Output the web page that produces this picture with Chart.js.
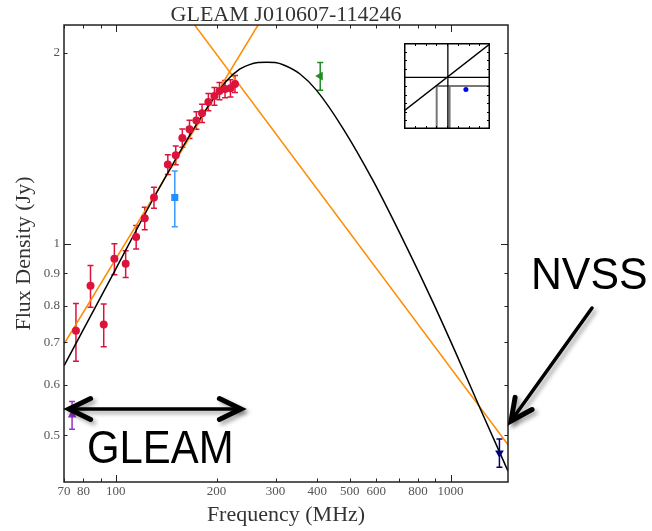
<!DOCTYPE html>
<html>
<head>
<meta charset="utf-8">
<script src="https://cdn.jsdelivr.net/npm/chart.js@4.4.0/dist/chart.umd.min.js"></script>
<style>
  html, body { margin: 0; padding: 0; background: #fff; }
  #wrap { position: relative; width: 652px; height: 531px; }
  #main { position: absolute; left: 0; top: 0; }
  #inset { position: absolute; left: 404px; top: 43px; }
</style>
</head>
<body>
<div id="wrap">
  <canvas id="main" width="652" height="531"></canvas>
  <canvas id="inset" width="86" height="86"></canvas>
</div>
<script>
// GLEAM sub-bands (MHz) and flux densities (Jy)
const gleamFreq = [76, 84, 92, 99, 107, 115, 122, 130, 143, 151, 158, 166, 174, 181, 189, 197, 204, 212, 220, 227];
const gleamFlux = [0.730, 0.860, 0.747, 0.948, 0.931, 1.026, 1.098, 1.184, 1.335, 1.380, 1.469, 1.517, 1.566, 1.607, 1.674, 1.710, 1.742, 1.755, 1.760, 1.787];
const gleamErr  = [0.076, 0.065, 0.058, 0.053, 0.045, 0.044, 0.045, 0.045, 0.048, 0.047, 0.049, 0.050, 0.050, 0.053, 0.053, 0.055, 0.055, 0.055, 0.055, 0.055];

// other surveys: VLSS, TGSS, MRC, NVSS
const vlssFreq = [74];   const vlssFlux = [0.538]; const vlssErr = [0.027];
const tgssFreq = [150];  const tgssFlux = [1.184]; const tgssErr = [0.119];
const mrcFreq  = [408];  const mrcFlux  = [1.839]; const mrcErr  = [0.092];
const nvssFreq = [1400]; const nvssFlux = [0.469]; const nvssErr = [0.024];

// fitted curved model (black)
const modelFreq = [70, 100, 130, 170, 214, 235, 251, 266, 282, 299, 316, 355, 398, 478, 588, 740, 880, 1033, 1228, 1485];
const modelFlux = [0.643, 0.914, 1.184, 1.512, 1.806, 1.887, 1.917, 1.931, 1.934, 1.931, 1.916, 1.853, 1.746, 1.519, 1.256, 0.988, 0.816, 0.677, 0.550, 0.439];

// power-law fits (orange), where they meet the frame
const riseFreq = [70, 266];
const riseFlux = [0.696, 2.213];
const fallFreq = [172, 1485];
const fallFlux = [2.213, 0.483];

// axes
const xMin = 70, xMax = 1485;
const yMin = 0.422, yMax = 2.213;
const xTickValues = [70, 80, 90, 100, 200, 300, 400, 500, 600, 700, 800, 900, 1000];
const xTickLabels = ['70', '80', '', '100', '200', '300', '400', '500', '600', '', '800', '', '1000'];
const xMajor = [100, 1000];
const yTickValues = [0.5, 0.6, 0.7, 0.8, 0.9, 1, 2];
const yTickLabels = ['0.5', '0.6', '0.7', '0.8', '0.9', '1', '2'];
const yMajor = [1];

// inset panel (unit box)
const insetDiagX = [0, 1];       const insetDiagY = [0.21, 0.99];
const insetHorX = [0, 1];        const insetHorY = [0.60, 0.60];
const insetVerX = [0.51, 0.51];  const insetVerY = [0, 1];
const insetGrayX = [0.38, 0.38, 1]; const insetGrayY = [0, 0.50, 0.50];
const insetGray2X = [0.53, 0.53];   const insetGray2Y = [0, 0.50];
const insetDotX = [0.72];        const insetDotY = [0.46];

const toXY = (xs, ys) => xs.map((v, i) => ({x: v, y: ys[i]}));
const serif = '"Liberation Serif", "DejaVu Serif", serif';

// vertical error bars with caps
const errorBars = {
    id: 'errorBars',
    beforeDatasetsDraw(chart) {
        const {ctx, scales: {y}} = chart;
        ctx.save();
        chart.data.datasets.forEach((ds, i) => {
            if (!ds.errors) return;
            const meta = chart.getDatasetMeta(i);
            ctx.strokeStyle = ds.errorColor || ds.borderColor;
            ctx.lineWidth = 1.5;
            meta.data.forEach((pt, j) => {
                const v = ds.data[j].y;
                const top = y.getPixelForValue(v + ds.errors[j]);
                const bot = y.getPixelForValue(v - ds.errors[j]);
                ctx.beginPath();
                ctx.moveTo(pt.x, top); ctx.lineTo(pt.x, bot);
                ctx.moveTo(pt.x - 3, top); ctx.lineTo(pt.x + 3, top);
                ctx.moveTo(pt.x - 3, bot); ctx.lineTo(pt.x + 3, bot);
                ctx.stroke();
            });
        });
        ctx.restore();
    }
};

// box frame with inward ticks on all four sides
const frameTicks = {
    id: 'frameTicks',
    afterDatasetsDraw(chart) {
        const {ctx, chartArea: a, scales: {x, y}} = chart;
        ctx.save();
        ctx.strokeStyle = '#222';
        ctx.lineWidth = 1;
        ctx.beginPath();
        xTickValues.forEach(v => {
            const px = Math.round(x.getPixelForValue(v)) + 0.5;
            const len = xMajor.includes(v) ? 7 : 3.5;
            ctx.moveTo(px, a.bottom); ctx.lineTo(px, a.bottom - len);
            ctx.moveTo(px, a.top); ctx.lineTo(px, a.top + len);
        });
        yTickValues.forEach(v => {
            const py = Math.round(y.getPixelForValue(v)) + 0.5;
            const len = yMajor.includes(v) ? 7 : 3.5;
            ctx.moveTo(a.left, py); ctx.lineTo(a.left + len, py);
            ctx.moveTo(a.right, py); ctx.lineTo(a.right - len, py);
        });
        ctx.stroke();
        ctx.lineWidth = 1.5;
        ctx.strokeRect(a.left, a.top, a.right - a.left, a.bottom - a.top);
        ctx.restore();
    }
};

function drawArrow(ctx, x1, y1, x2, y2, both) {
    ctx.lineWidth = 3.5;
    ctx.beginPath();
    ctx.moveTo(x1, y1); ctx.lineTo(x2, y2);
    ctx.stroke();
    const head = (tx, ty, ang) => {
        ctx.lineWidth = 5;
        ctx.beginPath();
        ctx.moveTo(tx + 24 * Math.cos(ang + 0.45), ty + 24 * Math.sin(ang + 0.45));
        ctx.lineTo(tx, ty);
        ctx.lineTo(tx + 24 * Math.cos(ang - 0.45), ty + 24 * Math.sin(ang - 0.45));
        ctx.stroke();
    };
    head(x2, y2, Math.atan2(y1 - y2, x1 - x2));
    if (both) head(x1, y1, Math.atan2(y2 - y1, x2 - x1));
}

// GLEAM / NVSS call-outs
const callouts = {
    id: 'callouts',
    afterDraw(chart) {
        const {ctx} = chart;
        ctx.save();
        ctx.strokeStyle = '#000';
        ctx.lineCap = 'round';
        ctx.lineJoin = 'miter';
        ctx.shadowColor = 'rgba(0,0,0,0.35)';
        ctx.shadowBlur = 4;
        ctx.shadowOffsetX = 3;
        ctx.shadowOffsetY = 3;
        drawArrow(ctx, 69, 409, 241, 409, true);
        drawArrow(ctx, 592, 308, 511, 421, false);
        ctx.restore();

        ctx.save();
        ctx.fillStyle = '#000';
        ctx.textBaseline = 'alphabetic';
        ctx.font = '46px "Liberation Sans", Arial, sans-serif';
        ctx.translate(87, 463);
        ctx.scale(0.91, 1);
        ctx.fillText('GLEAM', 0, 0);
        ctx.restore();

        ctx.save();
        ctx.fillStyle = '#000';
        ctx.font = '45px "Liberation Sans", Arial, sans-serif';
        ctx.translate(531, 289);
        ctx.scale(0.95, 1);
        ctx.fillText('NVSS', 0, 0);
        ctx.restore();
    }
};

const mainChart = new Chart(document.getElementById('main'), {
    type: 'scatter',
    data: {
        datasets: [
            {
                label: 'GLEAM',
                data: toXY(gleamFreq, gleamFlux),
                errors: gleamErr,
                pointStyle: 'circle',
                pointRadius: 4,
                backgroundColor: '#dc143c',
                borderColor: '#dc143c',
                borderWidth: 0,
                order: 1
            },
            {
                label: 'VLSS',
                data: toXY(vlssFreq, vlssFlux),
                errors: vlssErr,
                pointStyle: 'triangle',
                pointRadius: 5,
                backgroundColor: '#9932cc',
                borderColor: '#9932cc',
                borderWidth: 0,
                order: 1
            },
            {
                label: 'TGSS',
                data: toXY(tgssFreq, tgssFlux),
                errors: tgssErr,
                errorColor: '#3a9cff',
                pointStyle: 'rect',
                pointRadius: 5,
                backgroundColor: '#1e90ff',
                borderColor: '#1e90ff',
                borderWidth: 0,
                order: 1
            },
            {
                label: 'MRC',
                data: toXY(mrcFreq, mrcFlux),
                errors: mrcErr,
                pointStyle: 'triangle',
                rotation: 270,
                pointRadius: 5,
                backgroundColor: '#228b22',
                borderColor: '#228b22',
                borderWidth: 0,
                order: 1
            },
            {
                label: 'NVSS',
                data: toXY(nvssFreq, nvssFlux),
                errors: nvssErr,
                pointStyle: 'triangle',
                rotation: 180,
                pointRadius: 5,
                backgroundColor: '#000080',
                borderColor: '#000080',
                borderWidth: 0,
                order: 1
            },
            {
                label: 'model',
                data: toXY(modelFreq, modelFlux),
                showLine: true,
                pointRadius: 0,
                borderColor: '#000',
                borderWidth: 1.5,
                cubicInterpolationMode: 'monotone',
                order: 2
            },
            {
                label: 'rising power law',
                data: toXY(riseFreq, riseFlux),
                showLine: true,
                pointRadius: 0,
                borderColor: '#ff8c00',
                borderWidth: 1.5,
                order: 3
            },
            {
                label: 'falling power law',
                data: toXY(fallFreq, fallFlux),
                showLine: true,
                pointRadius: 0,
                borderColor: '#ff8c00',
                borderWidth: 1.5,
                order: 3
            }
        ]
    },
    options: {
        responsive: false,
        animation: false,
        devicePixelRatio: 1,
        layout: { autoPadding: false, padding: { left: 0, right: 144, top: 0, bottom: 0 } },
        plugins: {
            legend: { display: false },
            tooltip: { enabled: false },
            title: {
                display: true,
                fullSize: false,
                text: 'GLEAM J010607-114246',
                color: '#333',
                font: { family: serif, size: 22, weight: 'normal', lineHeight: 0.864 },
                padding: { top: 6, bottom: 0 }
            }
        },
        scales: {
            x: {
                type: 'logarithmic',
                position: 'bottom',
                min: xMin,
                max: xMax,
                grid: { display: false, drawTicks: false },
                border: { display: false },
                afterBuildTicks: (scale) => { scale.ticks = xTickValues.map(v => ({ value: v })); },
                afterFit: (scale) => { scale.height = 49; },
                ticks: {
                    autoSkip: false,
                    maxRotation: 0,
                    padding: 2,
                    color: '#555',
                    font: { family: serif, size: 13 },
                    callback: (value, index) => xTickLabels[index]
                },
                title: {
                    display: true,
                    text: 'Frequency (MHz)',
                    color: '#333',
                    font: { family: serif, size: 22 },
                    padding: { top: 0, bottom: 3 }
                }
            },
            y: {
                type: 'logarithmic',
                position: 'left',
                min: yMin,
                max: yMax,
                grid: { display: false, drawTicks: false },
                border: { display: false },
                afterBuildTicks: (scale) => { scale.ticks = yTickValues.map(v => ({ value: v })); },
                afterFit: (scale) => { scale.width = 64; },
                ticks: {
                    autoSkip: false,
                    padding: 4,
                    color: '#555',
                    font: { family: serif, size: 13 },
                    callback: (value, index) => yTickLabels[index]
                },
                title: {
                    display: true,
                    text: 'Flux Density (Jy)',
                    color: '#333',
                    font: { family: serif, size: 22 },
                    padding: { top: 11, bottom: 0 }
                }
            }
        }
    },
    plugins: [errorBars, frameTicks, callouts]
});

// small inset panel with its own frame and inward ticks
const insetFrame = {
    id: 'insetFrame',
    afterDatasetsDraw(chart) {
        const {ctx, chartArea: a} = chart;
        const w = a.right - a.left, h = a.bottom - a.top;
        ctx.save();
        ctx.strokeStyle = '#000';
        ctx.lineWidth = 1;
        ctx.beginPath();
        for (let i = 1; i < 8; i++) {
            const px = Math.round(a.left + w * i / 8) + 0.5;
            ctx.moveTo(px, a.bottom); ctx.lineTo(px, a.bottom - 3);
            ctx.moveTo(px, a.top); ctx.lineTo(px, a.top + 3);
        }
        for (let i = 1; i < 10; i++) {
            const py = Math.round(a.top + h * i / 10) + 0.5;
            ctx.moveTo(a.left, py); ctx.lineTo(a.left + 3, py);
            ctx.moveTo(a.right, py); ctx.lineTo(a.right - 3, py);
        }
        ctx.stroke();
        ctx.lineWidth = 1.5;
        ctx.strokeRect(a.left + 0.75, a.top + 0.75, w - 1.5, h - 1.5);
        ctx.restore();
    }
};

const insetChart = new Chart(document.getElementById('inset'), {
    type: 'scatter',
    data: {
        datasets: [
            { data: toXY(insetDotX, insetDotY), pointRadius: 2.5, backgroundColor: '#0000ff', borderWidth: 0, order: 1 },
            { data: toXY(insetDiagX, insetDiagY), showLine: true, pointRadius: 0, borderColor: '#000', borderWidth: 1.3, order: 2 },
            { data: toXY(insetHorX, insetHorY), showLine: true, pointRadius: 0, borderColor: '#000', borderWidth: 1.3, order: 2 },
            { data: toXY(insetVerX, insetVerY), showLine: true, pointRadius: 0, borderColor: '#000', borderWidth: 1.3, order: 2 },
            { data: toXY(insetGrayX, insetGrayY), showLine: true, pointRadius: 0, borderColor: '#777', borderWidth: 2, order: 3 },
            { data: toXY(insetGray2X, insetGray2Y), showLine: true, pointRadius: 0, borderColor: '#777', borderWidth: 2, order: 3 }
        ]
    },
    options: {
        responsive: false,
        animation: false,
        devicePixelRatio: 1,
        layout: { autoPadding: false, padding: 0 },
        plugins: { legend: { display: false }, tooltip: { enabled: false } },
        scales: {
            x: { type: 'linear', min: 0, max: 1, display: false },
            y: { type: 'linear', min: 0, max: 1, display: false }
        }
    },
    plugins: [insetFrame]
});
</script>
</body>
</html>
